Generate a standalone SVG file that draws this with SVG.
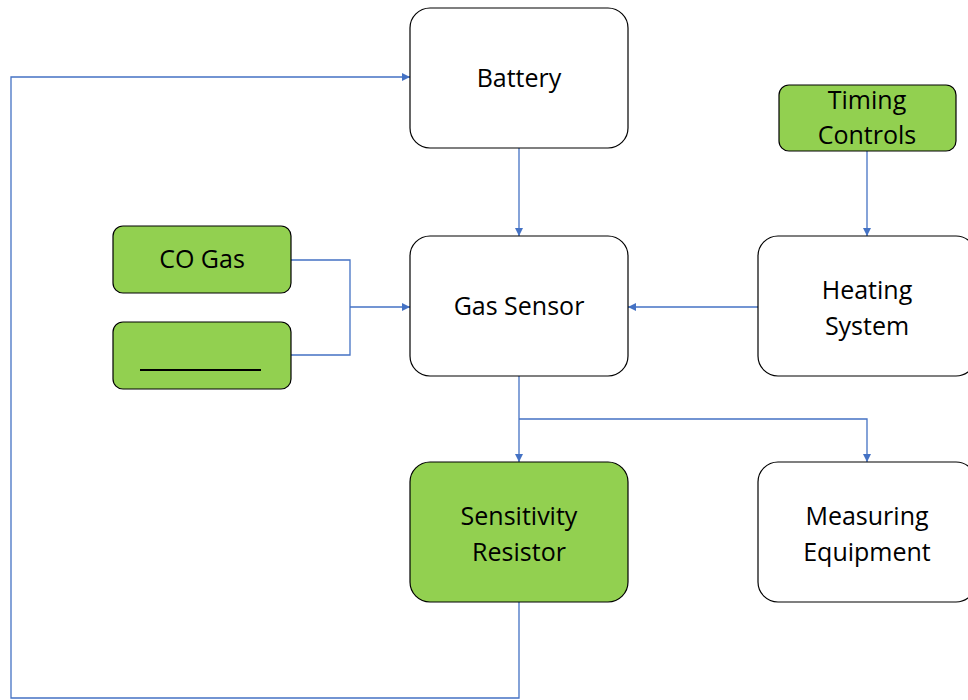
<svg xmlns="http://www.w3.org/2000/svg" width="968" height="700" viewBox="0 0 968 700">
<defs>
<marker id="arr" markerWidth="10" markerHeight="10" refX="9" refY="5" orient="auto" markerUnits="userSpaceOnUse">
<path d="M1,1 L9,5 L1,9 Z" fill="#4472C4"/>
</marker>
<style>
.box{stroke:#000;stroke-width:1.2;fill:#fff}
.green{fill:#92D050}
.t{font-family:"Open Sans","Liberation Sans",sans-serif;font-size:25px;fill:#000;text-anchor:middle;dominant-baseline:central}
.c{fill:none;stroke:#4472C4;stroke-width:1.3}
</style>
</defs>
<rect width="968" height="700" fill="#fff"/>
<g id="connectors">
<path class="c" d="M519,602 V698 H11 V77 H410" marker-end="url(#arr)"/>
<path class="c" d="M519,148 V236" marker-end="url(#arr)"/>
<path class="c" d="M291,260 H350 V355 H291"/>
<path class="c" d="M350,307 H410" marker-end="url(#arr)"/>
<path class="c" d="M867,151 V236" marker-end="url(#arr)"/>
<path class="c" d="M758,307 H628" marker-end="url(#arr)"/>
<path class="c" d="M519,376 V462" marker-end="url(#arr)"/>
<path class="c" d="M519,419 H867 V462" marker-end="url(#arr)"/>
</g>
<g id="battery">
<rect class="box" x="410" y="8" width="218" height="140" rx="20"/>
<text class="t" x="519" y="77">Battery</text>
</g>
<g id="timing-controls">
<rect class="box green" x="779" y="85" width="177" height="66" rx="10"/>
<text class="t" x="867" y="99">Timing</text>
<text class="t" x="867" y="134">Controls</text>
</g>
<g id="co-gas">
<rect class="box green" x="113" y="226" width="178" height="67" rx="10"/>
<text class="t" x="202" y="258">CO Gas</text>
</g>
<g id="blank">
<rect class="box green" x="113" y="322" width="178" height="67" rx="10"/>
<line x1="140" y1="370" x2="261" y2="370" stroke="#000" stroke-width="2"/>
</g>
<g id="gas-sensor">
<rect class="box" x="410" y="236" width="218" height="140" rx="20"/>
<text class="t" x="519" y="305">Gas Sensor</text>
</g>
<g id="heating-system">
<rect class="box" x="758" y="236" width="218" height="140" rx="20"/>
<text class="t" x="867" y="289">Heating</text>
<text class="t" x="867" y="325">System</text>
</g>
<g id="sensitivity-resistor">
<rect class="box green" x="410" y="462" width="218" height="140" rx="20"/>
<text class="t" x="519" y="515">Sensitivity</text>
<text class="t" x="519" y="551">Resistor</text>
</g>
<g id="measuring-equipment">
<rect class="box" x="758" y="462" width="218" height="140" rx="20"/>
<text class="t" x="867" y="515">Measuring</text>
<text class="t" x="867" y="551">Equipment</text>
</g>
</svg>
